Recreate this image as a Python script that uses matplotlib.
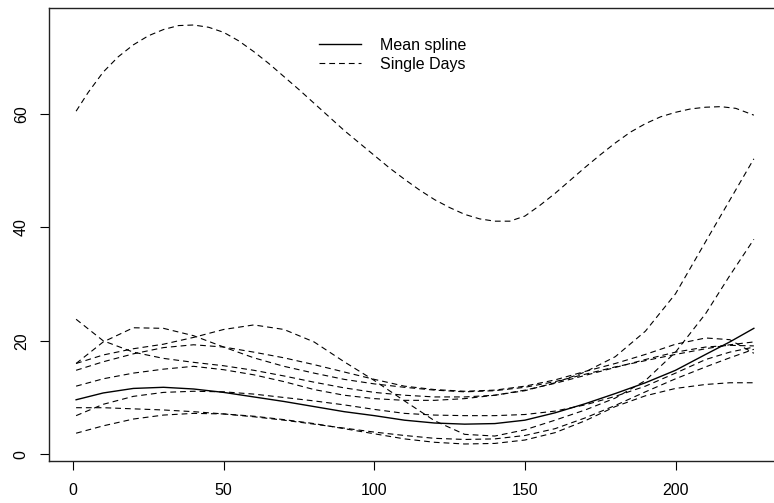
import matplotlib
matplotlib.use("Agg")
import matplotlib.pyplot as plt

# day of year grid the curves were read at
day = [1, 10, 20, 30, 40, 50, 60, 70, 80, 90, 100, 110, 120,
       130, 140, 150, 160, 170, 180, 190, 200, 210, 218, 226]

mean_spline = [9.6, 10.8, 11.6, 11.8, 11.5, 10.9, 10.1, 9.3, 8.4, 7.5, 6.8, 6.0,
               5.5, 5.3, 5.4, 6.0, 7.3, 8.9, 10.7, 12.6, 14.8, 17.6, 19.8, 22.2]

# the high day has a big swing, so it was read on a finer grid
day_fine = [1, 5, 10, 15, 20, 25, 30, 35, 40, 45, 50, 55, 60, 65, 70, 75, 80,
            85, 90, 95, 100, 105, 110, 115, 120, 125, 130, 135, 140, 145, 150,
            155, 160, 165, 170, 175, 180, 185, 190, 195, 200, 205, 210, 215,
            220, 226]
day_a = [60.5, 63.8, 67.4, 70.1, 72.2, 73.8, 74.9, 75.6, 75.7, 75.3, 74.4,
         72.9, 71.0, 68.9, 66.6, 64.3, 61.9, 59.5, 57.1, 54.9, 52.7, 50.5,
         48.5, 46.6, 44.9, 43.5, 42.3, 41.5, 41.1, 41.1, 42.0, 43.9, 46.0,
         48.3, 50.6, 52.8, 54.9, 56.8, 58.3, 59.5, 60.3, 60.9, 61.2, 61.3,
         61.0, 59.8]

# the other single day splines
day_b = [23.8, 20.0, 18.0, 16.9, 16.2, 15.6, 14.8, 13.8, 12.7, 11.7, 10.9, 10.4,
         10.1, 10.1, 10.4, 11.2, 12.6, 14.5, 17.2, 21.7, 28.3, 37.5, 44.8, 52.1]
day_c = [16.0, 19.8, 22.3, 22.2, 20.9, 18.9, 17.0, 15.5, 14.3, 13.2, 12.4, 11.8,
         11.3, 11.0, 11.2, 11.8, 12.8, 14.1, 15.4, 16.5, 17.6, 18.6, 19.3, 19.8]
day_d = [14.8, 16.3, 17.7, 18.8, 19.3, 18.9, 18.0, 17.0, 15.8, 14.5, 13.2, 12.0,
         11.4, 11.1, 11.3, 12.0, 13.1, 14.6, 16.0, 17.6, 19.4, 20.5, 20.2, 17.8]
day_e = [16.0, 17.5, 18.6, 19.4, 20.6, 22.0, 22.8, 22.0, 19.8, 16.3, 13.0, 9.4,
         5.9, 3.5, 3.2, 4.3, 6.0, 7.8, 9.9, 13.0, 18.0, 24.8, 31.5, 37.9]
day_f = [12.0, 13.3, 14.3, 15.0, 15.5, 14.9, 14.0, 12.8, 11.4, 10.4, 9.8, 9.5,
         9.5, 9.8, 10.4, 11.3, 12.5, 13.9, 15.3, 16.7, 18.0, 18.9, 19.2, 19.1]
day_g = [6.8, 8.8, 10.2, 10.9, 11.1, 11.0, 10.6, 10.0, 9.4, 8.7, 7.9, 7.2,
         6.9, 6.8, 6.8, 7.0, 7.6, 8.7, 10.2, 12.0, 14.3, 16.7, 18.0, 18.9]
day_h = [8.2, 8.2, 8.0, 7.8, 7.5, 7.1, 6.6, 6.0, 5.3, 4.6, 3.9, 3.3,
         2.8, 2.6, 2.7, 3.3, 4.5, 6.4, 8.6, 11.0, 13.3, 15.4, 17.0, 18.5]
day_i = [3.7, 5.0, 6.2, 6.9, 7.2, 7.1, 6.7, 6.1, 5.4, 4.5, 3.6, 2.7,
         2.1, 1.8, 1.9, 2.5, 3.8, 5.9, 8.4, 10.3, 11.6, 12.3, 12.6, 12.6]

single_days = [day_b, day_c, day_d, day_e, day_f, day_g, day_h, day_i]

x_ticks = [0, 50, 100, 150, 200]
y_ticks = [0, 20, 40, 60]

plt.rcParams['font.family'] = ['Liberation Sans', 'DejaVu Sans']

fig = plt.figure(figsize=(7.74, 5.03), dpi=100)
# right edge of the box falls outside the picture, as in the original
ax = fig.add_axes([0.0633, 0.0835, 0.9457, 0.9006])

dash = (5.2, 3.6)
ax.plot(day, mean_spline, color='black', lw=1.0, label='Mean spline')
ax.plot(day_fine, day_a, color='black', lw=0.8, dashes=dash, label='Single Days')
for vals in single_days:
    ax.plot(day, vals, color='black', lw=0.8, dashes=dash)

ax.set_xlim(-8, 235)
ax.set_ylim(-1.2, 78.7)
ax.set_xticks(x_ticks)
ax.set_yticks(y_ticks)
ax.tick_params(direction='out', length=6.5, width=0.8, labelsize=11.5, color='black')
ax.tick_params(axis='x', pad=9)
ax.tick_params(axis='y', pad=8, labelrotation=90)
for lab in ax.get_yticklabels():
    lab.set_va('center')

for sp in ax.spines.values():
    sp.set_linewidth(1.0)
    sp.set_color('#222222')

ax.legend(loc='upper left', bbox_to_anchor=(319 / 774, 1 - 38 / 503),
          bbox_transform=fig.transFigure, frameon=False, fontsize=11.5,
          handlelength=2.6, handletextpad=1.2, labelspacing=0.25,
          borderpad=0, borderaxespad=0)

fig.savefig('out.png', dpi=100)
